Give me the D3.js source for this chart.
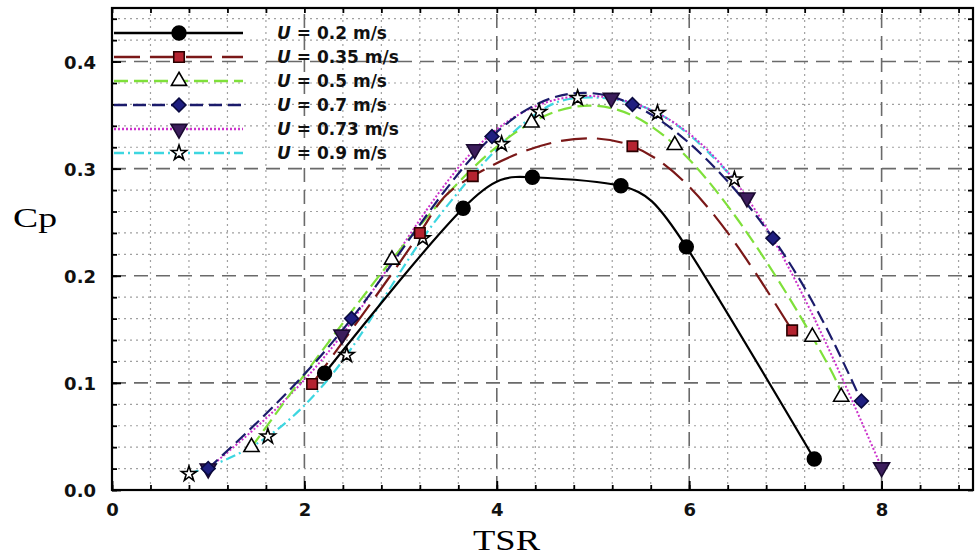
<!DOCTYPE html>
<html lang="en">
<head>
    <meta charset="UTF-8">
    <title>Cp vs TSR</title>
    <script src="https://d3js.org/d3.v7.min.js"></script>
</head>
<style>
    body { margin: 0; background: #fff; }
</style>
<body>
<script>
    // values
    const labels = ["0.2 m/s", "0.35 m/s", "0.5 m/s", "0.7 m/s", "0.73 m/s", "0.9 m/s"];
    const tsr02 = [2.21, 3.65, 4.37, 5.29, 5.97, 7.30];
    const cp02 = [0.109, 0.263, 0.292, 0.284, 0.227, 0.029];
    const tsr035 = [2.08, 3.20, 3.75, 5.41, 7.07];
    const cp035 = [0.099, 0.240, 0.293, 0.321, 0.149];
    const tsr05 = [1.45, 2.91, 4.36, 5.85, 7.28, 7.58];
    const cp05 = [0.040, 0.215, 0.343, 0.322, 0.143, 0.087];
    const tsr07 = [1.00, 2.49, 3.95, 5.41, 6.87, 7.79];
    const cp07 = [0.020, 0.160, 0.330, 0.360, 0.235, 0.083];
    const tsr073 = [1.00, 2.39, 3.77, 5.19, 6.60, 8.00];
    const cp073 = [0.020, 0.145, 0.318, 0.366, 0.273, 0.021];
    const tsr09 = [0.80, 1.62, 2.44, 3.23, 4.05, 4.44, 4.84, 5.67, 6.47];
    const cp09 = [0.015, 0.050, 0.126, 0.235, 0.323, 0.353, 0.366, 0.352, 0.290];
    const xTicks = [0, 2, 4, 6, 8];
    const yTicks = [0.0, 0.1, 0.2, 0.3, 0.4];

    // diamonds are drawn as squares turned by 45 degrees
    const styles = [
        {line: "#000000", dash: null, symbol: d3.symbolCircle, size: 150, fill: "#000", stroke: "#000", rot: 0},
        {line: "#7a1818", dash: "26,10", symbol: d3.symbolSquare, size: 110, fill: "#b52330", stroke: "#2a0000", rot: 0},
        {line: "#7fe03a", dash: "14,6", symbol: d3.symbolTriangle, size: 100, fill: "#fff", stroke: "#000", rot: 0},
        {line: "#1b1b6b", dash: "13,6", symbol: d3.symbolSquare, size: 95, fill: "#1f1f80", stroke: "#0a0a40", rot: 45},
        {line: "#cc33cc", dash: "2,2", symbol: d3.symbolTriangle, size: 110, fill: "#3c1d5c", stroke: "#1a0a30", rot: 180},
        {line: "#3dd6e0", dash: "10,4,2,4", symbol: d3.symbolStar, size: 70, fill: "#fff", stroke: "#000", rot: 0}
    ];
    const xs = [tsr02, tsr035, tsr05, tsr07, tsr073, tsr09];
    const ys = [cp02, cp035, cp05, cp07, cp073, cp09];

    const svg = d3.select("body")
            .append("svg")
            .attr("width", 976)
            .attr("height", 560);

    const x = d3.scaleLinear().domain([0, 8.95]).range([112, 973]);
    const y = d3.scaleLinear().domain([0, 0.45]).range([490, 8]);

    // grid
    const minorX = d3.range(0, 23).map(i => i * 0.4).filter(v => v < 8.95 && Math.abs(v / 2 - Math.round(v / 2)) > 1e-6);
    const minorY = d3.range(0, 23).map(i => i * 0.02).filter(v => v < 0.45 && Math.abs(v * 10 - Math.round(v * 10)) > 1e-6);
    const grid = svg.append("g");
    grid.selectAll(".mx").data(minorX).join("line")
            .attr("x1", d => x(d)).attr("x2", d => x(d))
            .attr("y1", y(0)).attr("y2", y(0.45))
            .attr("stroke", "#a0a0a0").attr("stroke-width", 1.2).attr("stroke-dasharray", "2,4");
    grid.selectAll(".my").data(minorY).join("line")
            .attr("y1", d => y(d)).attr("y2", d => y(d))
            .attr("x1", x(0)).attr("x2", x(8.95))
            .attr("stroke", "#a0a0a0").attr("stroke-width", 1.2).attr("stroke-dasharray", "2,4");
    grid.selectAll(".Mx").data(xTicks.slice(1)).join("line")
            .attr("x1", d => x(d)).attr("x2", d => x(d))
            .attr("y1", y(0)).attr("y2", y(0.45))
            .attr("stroke", "#6a6a6a").attr("stroke-width", 1.6).attr("stroke-dasharray", "14,8");
    grid.selectAll(".My").data(yTicks.slice(1)).join("line")
            .attr("y1", d => y(d)).attr("y2", d => y(d))
            .attr("x1", x(0)).attr("x2", x(8.95))
            .attr("stroke", "#6a6a6a").attr("stroke-width", 1.6).attr("stroke-dasharray", "14,8");

    // curves
    const line = d3.line().x(d => x(d[0])).y(d => y(d[1])).curve(d3.curveNatural);
    const order = [5, 4, 2, 1, 3, 0];
    order.forEach(i => {
        const pts = xs[i].map((v, j) => [v, ys[i][j]]);
        svg.append("path")
                .datum(pts)
                .attr("d", line)
                .attr("fill", "none")
                .attr("stroke", styles[i].line)
                .attr("stroke-width", i === 4 ? 2 : 2.2)
                .attr("stroke-dasharray", styles[i].dash);
    });
    order.forEach(i => {
        const s = styles[i];
        svg.append("g").selectAll("path")
                .data(xs[i].map((v, j) => [v, ys[i][j]]))
                .join("path")
                .attr("d", d3.symbol().type(s.symbol).size(s.size))
                .attr("transform", d => `translate(${x(d[0])},${y(d[1])}) rotate(${s.rot})`)
                .attr("fill", s.fill)
                .attr("stroke", s.stroke)
                .attr("stroke-width", 1.6);
    });

    // frame and ticks
    svg.append("rect")
            .attr("x", x(0)).attr("y", y(0.45))
            .attr("width", x(8.95) - x(0)).attr("height", y(0) - y(0.45))
            .attr("fill", "none").attr("stroke", "#000").attr("stroke-width", 2.2);

    const minorTX = d3.range(0, 23).map(i => i * 0.4).filter(v => v < 8.95);
    const minorTY = d3.range(0, 23).map(i => i * 0.02).filter(v => v < 0.45);
    const addAxis = (axis, tr) => {
        const g = svg.append("g").attr("transform", tr).call(axis);
        g.select(".domain").remove();
        g.selectAll(".tick line").attr("stroke", "#000").attr("stroke-width", 1.8);
        return g;
    };
    addAxis(d3.axisBottom(x).tickValues(minorTX).tickSize(-5).tickFormat(""), `translate(0,${y(0)})`);
    addAxis(d3.axisTop(x).tickValues(minorTX).tickSize(-5).tickFormat(""), `translate(0,${y(0.45)})`);
    addAxis(d3.axisLeft(y).tickValues(minorTY).tickSize(-5).tickFormat(""), `translate(${x(0)},0)`);
    addAxis(d3.axisRight(y).tickValues(minorTY).tickSize(-5).tickFormat(""), `translate(${x(8.95)},0)`);

    const xa = addAxis(d3.axisBottom(x).tickValues(xTicks).tickSize(-9).tickPadding(13).tickFormat(d3.format("d")), `translate(0,${y(0)})`);
    const ya = addAxis(d3.axisLeft(y).tickValues(yTicks).tickSize(-9).tickPadding(16).tickFormat(d3.format(".1f")), `translate(${x(0)},0)`);
    [xa, ya].forEach(g => g.selectAll("text")
            .attr("font-family", "DejaVu Sans")
            .attr("font-weight", "bold")
            .attr("font-size", 18)
            .attr("fill", "#111"));
    ya.selectAll("text").attr("dy", "0.36em");

    // axis titles
    svg.append("text")
            .attr("x", 13).attr("y", 227)
            .attr("font-family", "Liberation Serif")
            .attr("font-size", 27)
            .attr("textLength", 44).attr("lengthAdjust", "spacingAndGlyphs")
            .text("Cp");
    svg.append("text")
            .attr("x", 473).attr("y", 550)
            .attr("font-family", "Liberation Serif")
            .attr("font-size", 29)
            .attr("textLength", 67).attr("lengthAdjust", "spacingAndGlyphs")
            .text("TSR");

    // legend
    const legend = svg.append("g");
    labels.forEach((t, i) => {
        const s = styles[i];
        const ly = 33 + i * 24;
        legend.append("line")
                .attr("x1", 114).attr("x2", 243).attr("y1", ly).attr("y2", ly)
                .attr("stroke", s.line).attr("stroke-width", 2.4)
                .attr("stroke-dasharray", s.dash);
        legend.append("path")
                .attr("d", d3.symbol().type(s.symbol).size(s.size))
                .attr("transform", `translate(179,${ly}) rotate(${s.rot})`)
                .attr("fill", s.fill).attr("stroke", s.stroke).attr("stroke-width", 1.6);
        const tx = legend.append("text")
                .attr("x", 277).attr("y", ly + 6)
                .attr("font-family", "DejaVu Sans")
                .attr("font-weight", "bold")
                .attr("font-size", 17)
                .attr("fill", "#111");
        tx.append("tspan").attr("font-style", "italic").text("U");
        tx.append("tspan").text(" = " + t);
    });
</script>
</body>
</html>
